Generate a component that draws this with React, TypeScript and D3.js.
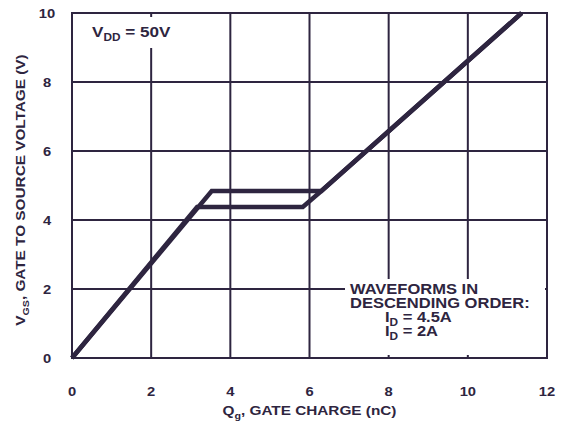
import React from "react";
import * as d3 from "d3";

// Gate charge curves
const xTicks = [0, 2, 4, 6, 8, 10, 12];
const yTicks = [0, 2, 4, 6, 8, 10];
const qg45 = [0, 3.53, 6.3, 11.36];
const vgs45 = [0, 4.84, 4.84, 10];
const qg2 = [0, 3.16, 5.83, 6.3, 11.36];
const vgs2 = [0, 4.38, 4.38, 4.84, 10];

const W = 562;
const H = 421;
const ink = "#2e2540";
const font = "'Liberation Sans', Arial, sans-serif";
const K = 1.18; // horizontal stretch of the datasheet lettering

function SText({ x, y, size, anchor = "start", rotate = 0, children }: any) {
  return (
    <g transform={`translate(${x},${y}) rotate(${rotate}) scale(${K},1)`}>
      <text fontFamily={font} fontWeight="bold" fontSize={size} fill={ink} textAnchor={anchor}>
        {children}
      </text>
    </g>
  );
}

export default function App() {
  const x = d3.scaleLinear().domain([0, 12]).range([72, 547]);
  const y = d3.scaleLinear().domain([0, 10]).range([358, 13]);

  const path = (qs: number[], vs: number[]) =>
    d3
      .line<number>()
      .x((d) => x(d))
      .y((_, i) => y(vs[i]))(qs) ?? "";

  return (
    <svg width={W} height={H} style={{ position: "absolute", left: 0, top: 0, background: "#fff" }}>
      {/* grid */}
      {xTicks.slice(1, -1).map((t) => (
        <line key={"gx" + t} x1={x(t)} x2={x(t)} y1={y(10)} y2={y(0)} stroke={ink} strokeWidth={2} />
      ))}
      {yTicks.slice(1, -1).map((t) => (
        <line key={"gy" + t} x1={x(0)} x2={x(12)} y1={y(t)} y2={y(t)} stroke={ink} strokeWidth={2} />
      ))}

      {/* label boxes mask the grid */}
      <rect x={80} y={17} width={105} height={31} fill="#fff" />
      <rect x={345} y={279} width={200} height={76} fill="#fff" />

      <rect x={x(0)} y={y(10)} width={x(12) - x(0)} height={y(0) - y(10)} fill="none" stroke={ink} strokeWidth={2} />

      {/* curves */}
      <path d={path(qg45, vgs45)} fill="none" stroke={ink} strokeWidth={4.5} />
      <path d={path(qg2, vgs2)} fill="none" stroke={ink} strokeWidth={4.5} />

      {/* ticks */}
      {yTicks.map((t) => (
        <SText key={"ty" + t} x={47} y={y(t) + 4.5} size={12.5} anchor="middle">
          {t}
        </SText>
      ))}
      {xTicks.map((t) => (
        <SText key={"tx" + t} x={x(t)} y={396} size={12.5} anchor="middle">
          {t}
        </SText>
      ))}

      {/* axis titles */}
      <SText x={x(6)} y={415} size={13} anchor="middle">
        Q<tspan fontSize={9} dy={4}>g</tspan>
        <tspan dy={-4}>, GATE CHARGE (nC)</tspan>
      </SText>
      <SText x={25} y={190} size={13} anchor="middle" rotate={-90}>
        V<tspan fontSize={9} dy={4}>GS</tspan>
        <tspan dy={-4}>, GATE TO SOURCE VOLTAGE (V)</tspan>
      </SText>

      {/* annotations */}
      <SText x={92} y={37} size={14.5}>
        V<tspan fontSize={10} dy={4}>DD</tspan>
        <tspan dy={-4}> = 50V</tspan>
      </SText>
      <SText x={350} y={294} size={14}>WAVEFORMS IN</SText>
      <SText x={350} y={308} size={14}>DESCENDING ORDER:</SText>
      <SText x={385} y={322} size={14}>
        I<tspan fontSize={10} dy={4}>D</tspan>
        <tspan dy={-4}> = 4.5A</tspan>
      </SText>
      <SText x={385} y={336} size={14}>
        I<tspan fontSize={10} dy={4}>D</tspan>
        <tspan dy={-4}> = 2A</tspan>
      </SText>
    </svg>
  );
}
